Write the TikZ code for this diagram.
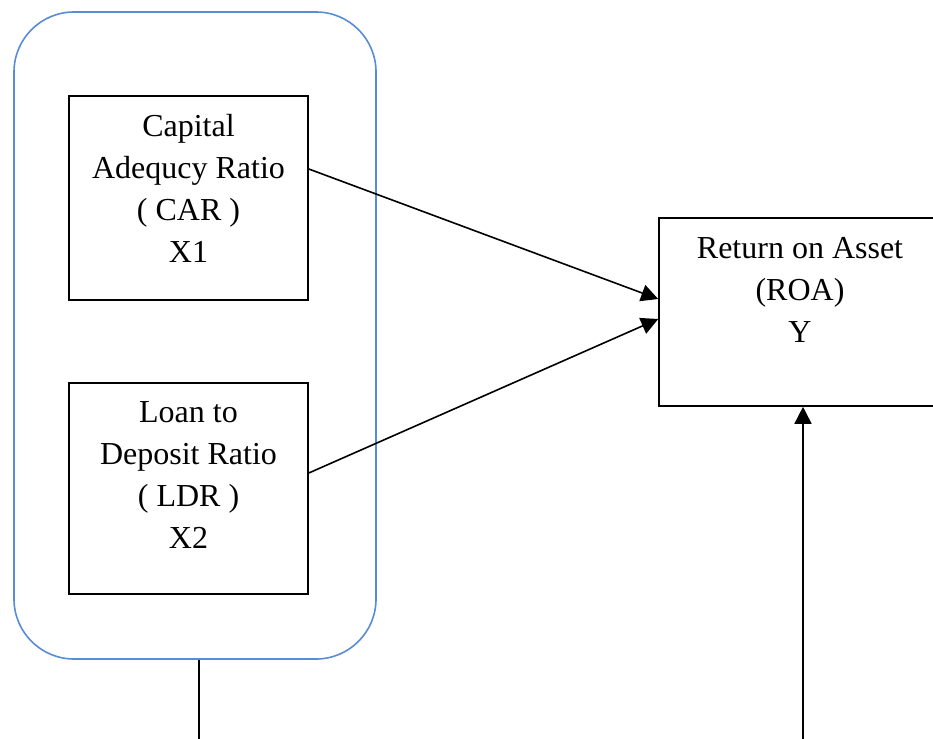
\documentclass[tikz,border=0pt]{standalone}
\usepackage{fontspec}
\setmainfont{Liberation Serif}
\usetikzlibrary{arrows.meta,calc}
\definecolor{groupblue}{RGB}{88,140,212}
\begin{document}
\begin{tikzpicture}[x=1pt,y=-1pt,
  varbox/.style={draw=black,line width=1.6pt,inner sep=0pt,fill=none},
  grpbox/.style={draw=groupblue,line width=1.6pt,rounded corners=60pt,inner sep=0pt},
  lbl/.style={align=center,inner sep=0pt,anchor=north,font=\fontsize{32}{42}\selectfont},
  link/.style={line width=1.6pt,-{Triangle[length=17pt,width=17pt]}},
  plain/.style={line width=1.6pt}]
\useasboundingbox (0,0) rectangle (933,738);

% group of independent variables
\node[grpbox,minimum width=362pt,minimum height=647pt] (grp) at (195,335.5) {};

% independent variables
\node[varbox,minimum width=239pt,minimum height=204pt] (car) at (188.5,198) {};
\node[lbl] (carlbl) at ([yshift=-19pt]car.north) {Capital\\Adequcy Ratio\\( CAR )\\X1};

\node[varbox,minimum width=239pt,minimum height=211pt] (ldr) at (188.5,488.5) {};
\node[lbl] (ldrlbl) at ([yshift=-19pt]ldr.north) {Loan to\\Deposit Ratio\\( LDR )\\X2};

% dependent variable
\node[varbox,minimum width=282pt,minimum height=188pt] (roa) at (800,312) {};
\node[lbl] (roalbl) at ([yshift=-20pt]roa.north) {Return on Asset\\(ROA)\\Y};

% connectors
\draw[link] ([yshift=29pt]car.east) -- ([yshift=13pt]roa.west);
\draw[link] ([yshift=15.5pt]ldr.east) -- ([yshift=-7pt]roa.west);

\coordinate (lowleft) at (199,745);
\coordinate (lowright) at (803,745);
\draw[plain] ([xshift=4pt]grp.south) -- (lowleft);
\draw[link] (lowright) -- ([xshift=3pt]roa.south);
\end{tikzpicture}
\end{document}
